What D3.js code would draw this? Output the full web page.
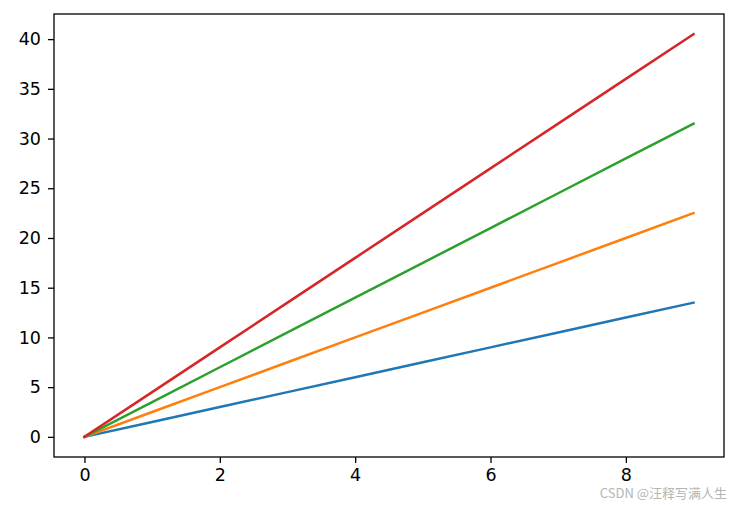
<!DOCTYPE html>
<html lang="en">
<head>
  <meta charset="UTF-8">
  <title>lines</title>
  <style>
    body { margin: 0; background: #fff; }
    svg { display: block; font-family: "DejaVu Sans", sans-serif; }
  </style>
</head>
<body>
  <svg id="chart"></svg>
  <script src="https://cdn.jsdelivr.net/npm/d3@7/dist/d3.min.js"></script>
  <script>
    // data
    var xs = [0, 1, 2, 3, 4, 5, 6, 7, 8, 9];
    var s1 = [0, 1.5, 3, 4.5, 6, 7.5, 9, 10.5, 12, 13.5];
    var s2 = [0, 2.5, 5, 7.5, 10, 12.5, 15, 17.5, 20, 22.5];
    var s3 = [0, 3.5, 7, 10.5, 14, 17.5, 21, 24.5, 28, 31.5];
    var s4 = [0, 4.5, 9, 13.5, 18, 22.5, 27, 31.5, 36, 40.5];
    var seriesList = [s1, s2, s3, s4];
    var colors = ['#1f77b4', '#ff7f0e', '#2ca02c', '#d62728'];
    var xTicks = [0, 2, 4, 6, 8];
    var yTicks = [0, 5, 10, 15, 20, 25, 30, 35, 40];

    var W = 737, H = 505;
    // plot box (window.top is reserved, so use other names)
    var mLeft = 54, mRight = 724, mTop = 14, mBottom = 457;

    var svg = d3.select('#chart').attr('width', W).attr('height', H);

    var x = d3.scaleLinear().domain([-0.45, 9.45]).range([mLeft, mRight]);
    var y = d3.scaleLinear().domain([-2.025, 42.525]).range([mBottom, mTop]);

    var line = d3.line()
      .x((d, i) => x(xs[i]))
      .y(d => y(d));

    svg.append('g').selectAll('path')
      .data(seriesList)
      .enter()
      .append('path')
      .attr('d', line)
      .attr('fill', 'none')
      .attr('stroke', (d, i) => colors[i])
      .attr('stroke-width', 2.5)
      .attr('stroke-linecap', 'square');

    // axes
    var xAxis = svg.append('g')
      .attr('transform', 'translate(0,' + mBottom + ')')
      .call(d3.axisBottom(x).tickValues(xTicks).tickSize(6).tickPadding(6).tickFormat(d3.format('d')));
    var yAxis = svg.append('g')
      .attr('transform', 'translate(' + mLeft + ',0)')
      .call(d3.axisLeft(y).tickValues(yTicks).tickSize(6).tickPadding(7).tickFormat(d3.format('d')));

    [xAxis, yAxis].forEach(function (g) {
      g.select('.domain').remove();
      g.selectAll('line').attr('stroke', '#000').attr('stroke-width', 1.3);
      g.selectAll('text').attr('fill', '#000').style('font-size', '17.5px').style('font-family', '"DejaVu Sans", sans-serif');
    });

    // frame
    svg.append('rect')
      .attr('x', mLeft).attr('y', mTop)
      .attr('width', mRight - mLeft).attr('height', mBottom - mTop)
      .attr('fill', 'none')
      .attr('stroke', '#000')
      .attr('stroke-width', 1.3);

    // watermark
    svg.append('text')
      .attr('x', 727).attr('y', 498)
      .attr('text-anchor', 'end')
      .attr('fill', '#b4b4b4')
      .style('font-size', '13px')
      .style('font-family', '"Noto Sans CJK SC", sans-serif')
      .text('CSDN @汪释写满人生');
  </script>
</body>
</html>
